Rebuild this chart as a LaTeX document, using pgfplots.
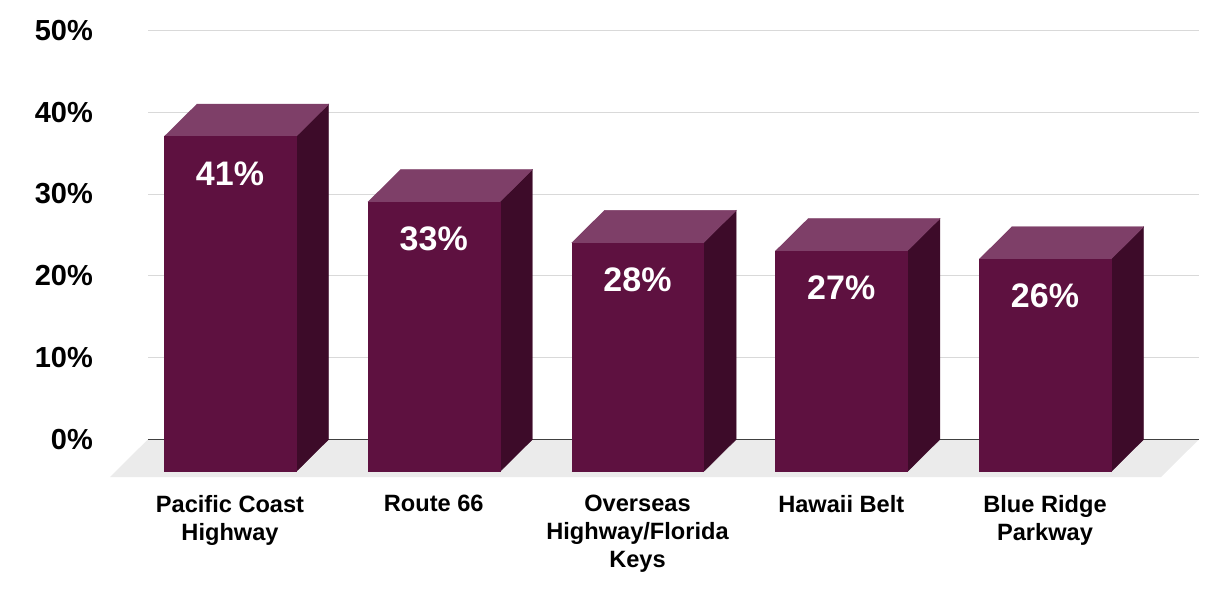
\documentclass[border=0pt]{standalone}
\usepackage{pgfplots}
\pgfplotsset{compat=1.18}
\usepackage{fontspec}
\setmainfont{Liberation Sans}

\definecolor{frontc}{HTML}{5E1140}
\definecolor{topc}{HTML}{7E3F68}
\definecolor{sidec}{HTML}{3D0B29}
\definecolor{floorc}{HTML}{EBEBEB}
\definecolor{gridc}{HTML}{D9D9D9}
\definecolor{zeroc}{HTML}{404040}

% one 3D bar: #1 = category position, #2 = value (%)
% a/b = corner offsets, k = 1 where the corner sits at the bar top
\newcommand\boxbar[2]{%
  \addplot[fill=sidec, draw=sidec, line width=0.4pt]
    table[row sep=\\, x expr=\thisrow{a}+#1, y expr=\thisrow{b}+#2*\thisrow{k}]
    {a b k\\ 0.3239 -3.96 0\\ 0.4844 0 0\\ 0.4844 0 1\\ 0.3239 -3.96 1\\};
  \addplot[fill=topc, draw=topc, line width=0.4pt]
    table[row sep=\\, x expr=\thisrow{a}+#1, y expr=\thisrow{b}+#2*\thisrow{k}]
    {a b k\\ -0.3239 -3.96 1\\ 0.3239 -3.96 1\\ 0.4844 0 1\\ -0.1634 0 1\\};
  \addplot[fill=frontc, draw=frontc, line width=0.4pt]
    table[row sep=\\, x expr=\thisrow{a}+#1, y expr=\thisrow{b}+#2*\thisrow{k}]
    {a b k\\ -0.3239 -3.96 0\\ 0.3239 -3.96 0\\ 0.3239 -3.96 1\\ -0.3239 -3.96 1\\};
}

\begin{document}
\begin{tikzpicture}
\useasboundingbox (0,0) rectangle (1232pt,608pt);
\begin{axis}[
  at={(148pt,127.8pt)}, anchor=south west,
  scale only axis,
  width=1051pt, height=449.7pt,
  xmin=-0.4025, xmax=4.7558,
  ymin=-5, ymax=50,
  clip=false,
  axis line style={draw=none},
  major tick length=0pt,
  ymajorgrids,
  grid style={gridc, line width=1pt},
  ytick={0,10,20,30,40,50},
  yticklabels={0\%,10\%,20\%,30\%,40\%,50\%},
  yticklabel style={anchor=east, inner sep=0pt, xshift=-55pt,
    font=\fontsize{29}{34}\selectfont\bfseries},
  xtick={0,1,2,3,4},
  xticklabels={{Pacific Coast\\Highway},{Route 66},{Overseas\\Highway/Florida\\Keys},{Hawaii Belt},{Blue Ridge\\Parkway}},
  xticklabel style={anchor=north, align=center, inner sep=0pt, yshift=-14.5pt,
    font=\fontsize{23.6}{28}\selectfont\bfseries},
]
% floor
\addplot[fill=floorc, draw=none] coordinates {(-0.4025,0) (4.7558,0) (4.5693,-4.61) (-0.5890,-4.61)};
% zero line
\addplot[zeroc, line width=1.3pt] coordinates {(-0.4025,0) (4.7558,0)};

\boxbar{0}{41}
\boxbar{1}{33}
\boxbar{2}{28}
\boxbar{3}{27}
\boxbar{4}{26}

% value labels on the front faces
\addplot[draw=none, point meta=y,
  nodes near coords={\pgfmathprintnumber[assume math mode=true]{\pgfplotspointmeta}\%},
  every node near coord/.append style={anchor=center, yshift=-69.5pt, text=white,
    font=\fontsize{34}{40}\selectfont\bfseries}]
  coordinates {(0,41) (1,33) (2,28) (3,27) (4,26)};
\end{axis}
\end{tikzpicture}
\end{document}
